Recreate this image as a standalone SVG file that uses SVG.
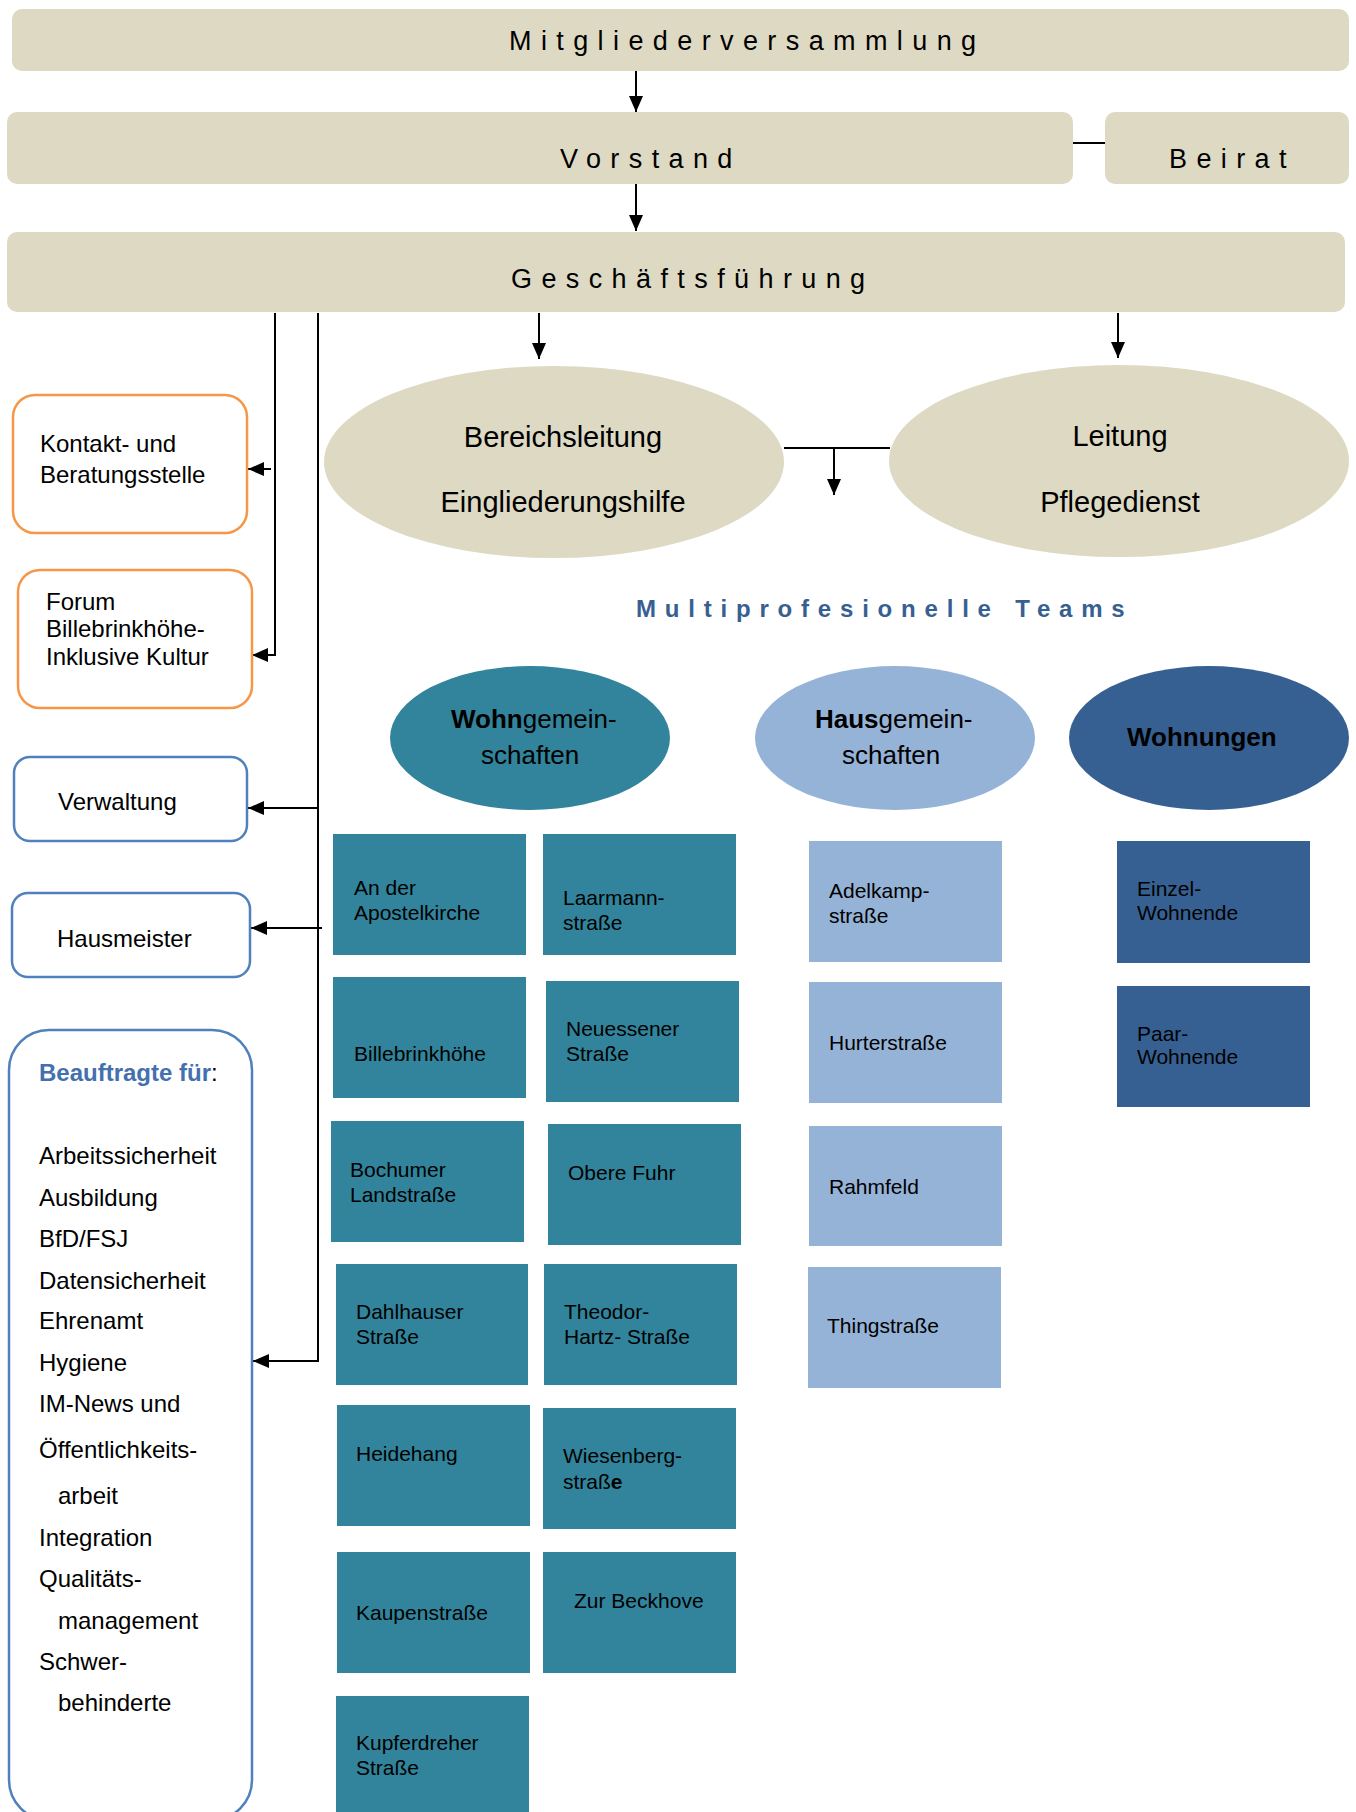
<svg xmlns="http://www.w3.org/2000/svg" width="1356" height="1812" viewBox="0 0 1356 1812">
<style>
text{font-family:"Liberation Sans",Arial,Helvetica,sans-serif;fill:#000}
.beige{fill:#DDD9C3}
.hdr{font-size:27px;letter-spacing:9.4px}
.ell{font-size:29px;text-anchor:middle}
.grp{font-size:26px}
.b{font-weight:bold}
.lt{font-size:24px}
.bx{font-size:21px}
.teal{fill:#31849B}
.lblue{fill:#95B3D7}
.dblue{fill:#366092}
.orange{fill:#fff;stroke:#F79646;stroke-width:2.5}
.blue{fill:#fff;stroke:#4F81BD;stroke-width:2.5}
.conn{stroke:#000;stroke-width:2;fill:none}
.arr{marker-end:url(#ah)}
</style>
<defs>
<marker id="ah" markerUnits="userSpaceOnUse" markerWidth="16" markerHeight="14" refX="16" refY="7" orient="auto">
<path d="M0,0 L16,7 L0,14 z" fill="#000"/>
</marker>
</defs>
<rect width="1356" height="1812" fill="#fff"/>

<g id="connectors">
<path class="conn arr" d="M636,71 V112"/>
<path class="conn arr" d="M636,184 V231"/>
<path class="conn" d="M1073,143 H1105"/>
<path class="conn arr" d="M539,313 V359"/>
<path class="conn arr" d="M1118,313 V358"/>
<path class="conn" d="M784,448 H890"/>
<path class="conn arr" d="M834,448 V495"/>
<path class="conn arr" d="M275,313 V655 H252"/>
<path class="conn arr" d="M271,469 H248"/>
<path class="conn arr" d="M318,313 V1361 H253"/>
<path class="conn arr" d="M318,808 H248"/>
<path class="conn arr" d="M322,928 H251"/>
</g>

<g id="mitgliederversammlung">
<rect class="beige" x="12" y="9" width="1337" height="62" rx="10"/>
<text class="hdr" x="509" y="50">Mitgliederversammlung</text>
</g>
<g id="vorstand">
<rect class="beige" x="7" y="112" width="1066" height="72" rx="10"/>
<text class="hdr" x="560" y="168">Vorstand</text>
</g>
<g id="beirat">
<rect class="beige" x="1105" y="112" width="244" height="72" rx="10"/>
<text class="hdr" x="1169" y="168">Beirat</text>
</g>
<g id="geschaeftsfuehrung">
<rect class="beige" x="7" y="232" width="1338" height="80" rx="10"/>
<text class="hdr" x="511" y="288">Geschäftsführung</text>
</g>

<g id="bereichsleitung">
<ellipse class="beige" cx="554" cy="462" rx="230" ry="96"/>
<text class="ell" x="563" y="447">Bereichsleitung</text>
<text class="ell" x="563" y="512">Eingliederungshilfe</text>
</g>
<g id="leitung">
<ellipse class="beige" cx="1119" cy="461" rx="230" ry="96"/>
<text class="ell" x="1120" y="446">Leitung</text>
<text class="ell" x="1120" y="512">Pflegedienst</text>
</g>

<g id="kontakt">
<rect class="orange" x="13" y="395" width="234" height="138" rx="22"/>
<text class="lt" x="40" y="452">Kontakt- und</text>
<text class="lt" x="40" y="483">Beratungsstelle</text>
</g>
<g id="forum">
<rect class="orange" x="18" y="570" width="234" height="138" rx="22"/>
<text class="lt" x="46" y="610">Forum</text>
<text class="lt" x="46" y="637">Billebrinkhöhe-</text>
<text class="lt" x="46" y="665">Inklusive Kultur</text>
</g>
<g id="verwaltung">
<rect class="blue" x="14" y="757" width="233" height="84" rx="16"/>
<text class="lt" x="58" y="810">Verwaltung</text>
</g>
<g id="hausmeister">
<rect class="blue" x="12" y="893" width="238" height="84" rx="16"/>
<text class="lt" x="57" y="947">Hausmeister</text>
</g>
<g id="beauftragte">
<rect class="blue" x="9" y="1030" width="243" height="790" rx="40"/>
<text class="lt" x="39" y="1081"><tspan class="b" fill="#4470AE">Beauftragte für</tspan>:</text>
<text class="lt" x="39" y="1164">Arbeitssicherheit</text>
<text class="lt" x="39" y="1206">Ausbildung</text>
<text class="lt" x="39" y="1247">BfD/FSJ</text>
<text class="lt" x="39" y="1289">Datensicherheit</text>
<text class="lt" x="39" y="1329">Ehrenamt</text>
<text class="lt" x="39" y="1371">Hygiene</text>
<text class="lt" x="39" y="1412">IM-News und</text>
<text class="lt" x="39" y="1458">Öffentlichkeits-</text>
<text class="lt" x="58" y="1504">arbeit</text>
<text class="lt" x="39" y="1546">Integration</text>
<text class="lt" x="39" y="1587">Qualitäts-</text>
<text class="lt" x="58" y="1629">management</text>
<text class="lt" x="39" y="1670">Schwer-</text>
<text class="lt" x="58" y="1711">behinderte</text>
</g>

<g id="teams-title">
<text class="b" x="636" y="617" font-size="24" letter-spacing="8.8" style="fill:#376092">Multiprofesionelle Teams</text>
</g>

<g id="wohngemeinschaften">
<ellipse class="teal" cx="530" cy="738" rx="140" ry="72"/>
<text class="grp" x="451" y="728"><tspan class="b">Wohn</tspan>gemein-</text>
<text class="grp" x="481" y="764">schaften</text>
</g>
<g id="hausgemeinschaften">
<ellipse class="lblue" cx="895" cy="738" rx="140" ry="72"/>
<text class="grp" x="815" y="728"><tspan class="b">Haus</tspan>gemein-</text>
<text class="grp" x="842" y="764">schaften</text>
</g>
<g id="wohnungen">
<ellipse class="dblue" cx="1209" cy="738" rx="140" ry="72"/>
<text class="grp b" x="1127" y="746">Wohnungen</text>
</g>

<g id="wg-apostelkirche"><rect class="teal" x="333" y="834" width="193" height="121"/><text class="bx" x="354" y="895">An der</text><text class="bx" x="354" y="920">Apostelkirche</text></g>
<g id="wg-laarmann"><rect class="teal" x="543" y="834" width="193" height="121"/><text class="bx" x="563" y="905">Laarmann-</text><text class="bx" x="563" y="930">straße</text></g>
<g id="wg-billebrinkhoehe"><rect class="teal" x="333" y="977" width="193" height="121"/><text class="bx" x="354" y="1061">Billebrinkhöhe</text></g>
<g id="wg-neuessener"><rect class="teal" x="546" y="981" width="193" height="121"/><text class="bx" x="566" y="1036">Neuessener</text><text class="bx" x="566" y="1061">Straße</text></g>
<g id="wg-bochumer"><rect class="teal" x="331" y="1121" width="193" height="121"/><text class="bx" x="350" y="1177">Bochumer</text><text class="bx" x="350" y="1202">Landstraße</text></g>
<g id="wg-oberefuhr"><rect class="teal" x="548" y="1124" width="193" height="121"/><text class="bx" x="568" y="1180">Obere Fuhr</text></g>
<g id="wg-dahlhauser"><rect class="teal" x="336" y="1264" width="192" height="121"/><text class="bx" x="356" y="1319">Dahlhauser</text><text class="bx" x="356" y="1344">Straße</text></g>
<g id="wg-theodor"><rect class="teal" x="544" y="1264" width="193" height="121"/><text class="bx" x="564" y="1319">Theodor-</text><text class="bx" x="564" y="1344">Hartz- Straße</text></g>
<g id="wg-heidehang"><rect class="teal" x="337" y="1405" width="193" height="121"/><text class="bx" x="356" y="1461">Heidehang</text></g>
<g id="wg-wiesenberg"><rect class="teal" x="543" y="1408" width="193" height="121"/><text class="bx" x="563" y="1463">Wiesenberg-</text><text class="bx" x="563" y="1489">straß<tspan class="b">e</tspan></text></g>
<g id="wg-kaupen"><rect class="teal" x="337" y="1552" width="193" height="121"/><text class="bx" x="356" y="1620">Kaupenstraße</text></g>
<g id="wg-beckhove"><rect class="teal" x="543" y="1552" width="193" height="121"/><text class="bx" x="574" y="1608">Zur Beckhove</text></g>
<g id="wg-kupferdreher"><rect class="teal" x="336" y="1696" width="193" height="130"/><text class="bx" x="356" y="1750">Kupferdreher</text><text class="bx" x="356" y="1775">Straße</text></g>

<g id="hg-adelkamp"><rect class="lblue" x="809" y="841" width="193" height="121"/><text class="bx" x="829" y="898">Adelkamp-</text><text class="bx" x="829" y="923">straße</text></g>
<g id="hg-hurter"><rect class="lblue" x="809" y="982" width="193" height="121"/><text class="bx" x="829" y="1050">Hurterstraße</text></g>
<g id="hg-rahmfeld"><rect class="lblue" x="809" y="1126" width="193" height="120"/><text class="bx" x="829" y="1194">Rahmfeld</text></g>
<g id="hg-thing"><rect class="lblue" x="808" y="1267" width="193" height="121"/><text class="bx" x="827" y="1333">Thingstraße</text></g>

<g id="wo-einzel"><rect class="dblue" x="1117" y="841" width="193" height="122"/><text class="bx" x="1137" y="896">Einzel-</text><text class="bx" x="1137" y="920">Wohnende</text></g>
<g id="wo-paar"><rect class="dblue" x="1117" y="986" width="193" height="121"/><text class="bx" x="1137" y="1041">Paar-</text><text class="bx" x="1137" y="1064">Wohnende</text></g>
</svg>
